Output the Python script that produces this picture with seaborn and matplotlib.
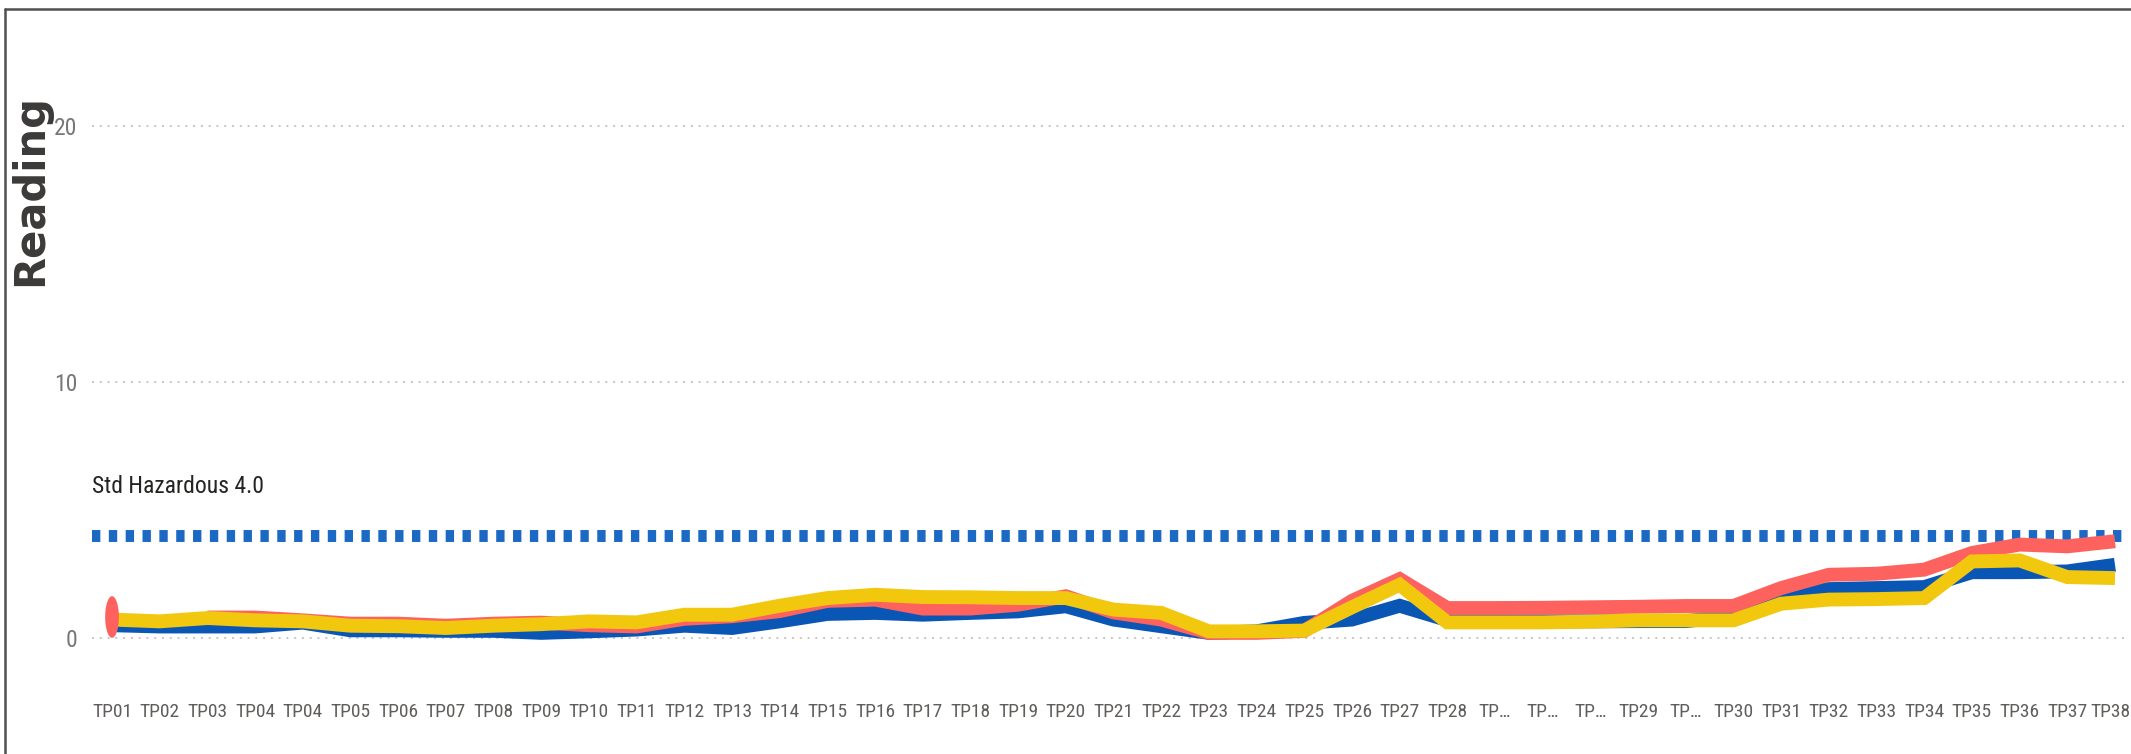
import numpy as np
import pandas as pd
import matplotlib
matplotlib.use('Agg')
import matplotlib.pyplot as plt
import matplotlib.transforms as mtransforms
from matplotlib import font_manager
from matplotlib.path import Path
import seaborn as sns

# x categories (as shown on the axis, some truncated by the report)
tp_labels = ['TP01', 'TP02', 'TP03', 'TP04', 'TP04', 'TP05', 'TP06', 'TP07', 'TP08', 'TP09',
             'TP10', 'TP11', 'TP12', 'TP13', 'TP14', 'TP15', 'TP16', 'TP17', 'TP18', 'TP19',
             'TP20', 'TP21', 'TP22', 'TP23', 'TP24', 'TP25', 'TP26', 'TP27', 'TP28', 'TP…',
             'TP…', 'TP…', 'TP29', 'TP…', 'TP30', 'TP31', 'TP32', 'TP33', 'TP34', 'TP35',
             'TP36', 'TP37', 'TP38']

blue_vals = [0.50, 0.45, 0.45, 0.45, 0.60, 0.30, 0.30, 0.28, 0.28, 0.20,
             0.26, 0.33, 0.48, 0.39, 0.65, 0.94, 0.98, 0.91, 0.98, 1.04,
             1.24, 0.72, 0.46, 0.20, 0.26, 0.59, 0.72, 1.26, 0.70, 0.65,
             0.65, 0.65, 0.66, 0.66, 0.85, 1.63, 1.91, 1.95, 1.99, 2.57,
             2.57, 2.60, 2.86]
red_vals = [0.82, np.nan, 0.80, 0.80, 0.69, 0.56, 0.56, 0.48, 0.56, 0.60,
            0.50, 0.45, 0.75, 0.85, 1.05, 1.45, 1.50, 1.15, 1.15, 1.30,
            1.63, 1.00, 0.72, 0.20, 0.20, 0.28, 1.45, 2.30, 1.17, 1.17,
            1.18, 1.20, 1.22, 1.25, 1.25, 1.95, 2.47, 2.51, 2.67, 3.32,
            3.65, 3.58, 3.78]
yellow_vals = [0.72, 0.65, 0.78, 0.69, 0.65, 0.48, 0.46, 0.39, 0.48, 0.54,
               0.65, 0.61, 0.91, 0.91, 1.26, 1.56, 1.69, 1.60, 1.59, 1.56,
               1.56, 1.11, 0.98, 0.26, 0.26, 0.29, 1.20, 2.08, 0.61, 0.61,
               0.61, 0.64, 0.69, 0.69, 0.69, 1.34, 1.50, 1.52, 1.56, 2.99,
               3.03, 2.38, 2.34]

series_names = ['S1', 'S2', 'S3']
series_colors = ['#0A56B5', '#FD625E', '#F2C80F']

hazard_level = 4.0
hazard_text = 'Std Hazardous 4.0'
y_ticks = [0, 10, 20]

W, H, DPI = 2131, 754, 100

# fonts: the report text is very condensed
avail = {f.name for f in font_manager.fontManager.ttflist}
narrow = next((f for f in ['Liberation Sans Narrow', 'DejaVu Sans Condensed', 'Roboto Condensed']
               if f in avail), None)
if narrow is None:
    narrow, fs = 'Liberation Sans', 12
else:
    fs = 14

sns.set_theme(style='white')
plt.rcParams['font.family'] = [narrow, 'DejaVu Sans']

# long-form table, lines broken where a value is missing
rows = []
for name, vals in zip(series_names, [blue_vals, red_vals, yellow_vals]):
    seg = 0
    for i, v in enumerate(vals):
        if np.isnan(v):
            seg += 1
            continue
        rows.append({'idx': i, 'value': v, 'series': name, 'seg': seg})
df = pd.DataFrame(rows)
df['n_in_seg'] = df.groupby(['series', 'seg'])['idx'].transform('count')

fig = plt.figure(figsize=(W / DPI, H / DPI), dpi=DPI)
ax_left, ax_right = 92, 2125
y0_px, px_per_unit = 638, 25.6
ylim = (-1.2, 23.5)
bottom = 1 - (y0_px - ylim[0] * px_per_unit) / H
top = 1 - (y0_px - ylim[1] * px_per_unit) / H
ax = fig.add_axes([ax_left / W, bottom, (ax_right - ax_left) / W, top - bottom])

# grid
ax.set_yticks(y_ticks)
ax.yaxis.grid(True, linestyle=(0, (1, 3)), color='#C8C6C4', linewidth=1.4, zorder=0)
ax.xaxis.grid(False)

# hazard reference line
ax.axhline(hazard_level, color='#1C69C4', linewidth=8.6, linestyle=(0, (0.7, 0.71)),
           dash_capstyle='butt', zorder=2)

lines_df = df[df['n_in_seg'] > 1]
for z, (name, col) in enumerate(zip(series_names, series_colors)):
    sub = lines_df[lines_df['series'] == name]
    sns.lineplot(data=sub, x='idx', y='value', units='seg', estimator=None, sort=True,
                 color=col, linewidth=10, ax=ax, zorder=3 + z, legend=False,
                 solid_capstyle='butt', solid_joinstyle='miter')

# isolated points shown as markers (stretched like the screenshot)
theta = np.linspace(0, 2 * np.pi, 64)
ellipse = Path(np.column_stack([0.33 * np.cos(theta), np.sin(theta)]), closed=True)
pts = df[df['n_in_seg'] == 1]
for name, col in zip(series_names, series_colors):
    p = pts[pts['series'] == name]
    if len(p):
        sns.scatterplot(data=p, x='idx', y='value', marker=ellipse, s=30 ** 2, color=col,
                        edgecolor='none', linewidth=0, ax=ax, zorder=7, legend=False)

ax.text(-0.42, 5.45, hazard_text, fontsize=fs + 3, color='#252423', ha='left', va='bottom',
        family=[narrow, 'DejaVu Sans'])

ax.set_xlim(-0.42, 42.21)
ax.set_ylim(*ylim)
ax.set_xticks(range(len(tp_labels)))
ax.set_xticklabels(tp_labels)
ax.tick_params(axis='x', length=0, pad=24.5, labelsize=fs, labelcolor='#605E5C')
ax.tick_params(axis='y', length=0, pad=10.8, labelsize=fs + 3, labelcolor='#777777')
# nudge the last label so it stays inside the picture
last = ax.get_xticklabels()[-1]
last.set_transform(last.get_transform() +
                   mtransforms.ScaledTranslation(-5 / DPI, 0, fig.dpi_scale_trans))
ax.set_xlabel('')
ax.set_ylabel('')
for s in ax.spines.values():
    s.set_visible(False)

fig.text(30 / W, 1 - 190 / H, 'Reading', rotation=90, ha='center', va='center',
         fontsize=30, fontweight='bold', color='#3B3A39', family='DejaVu Sans')

# screenshot frame (left and top edges)
fig.add_artist(plt.Line2D([5 / W, 5 / W], [0, 1 - 9 / H], transform=fig.transFigure,
                          color='#505050', linewidth=1.8))
fig.add_artist(plt.Line2D([5 / W, 1], [1 - 9 / H, 1 - 9 / H], transform=fig.transFigure,
                          color='#505050', linewidth=1.8))

fig.savefig('out.png', dpi=DPI)
